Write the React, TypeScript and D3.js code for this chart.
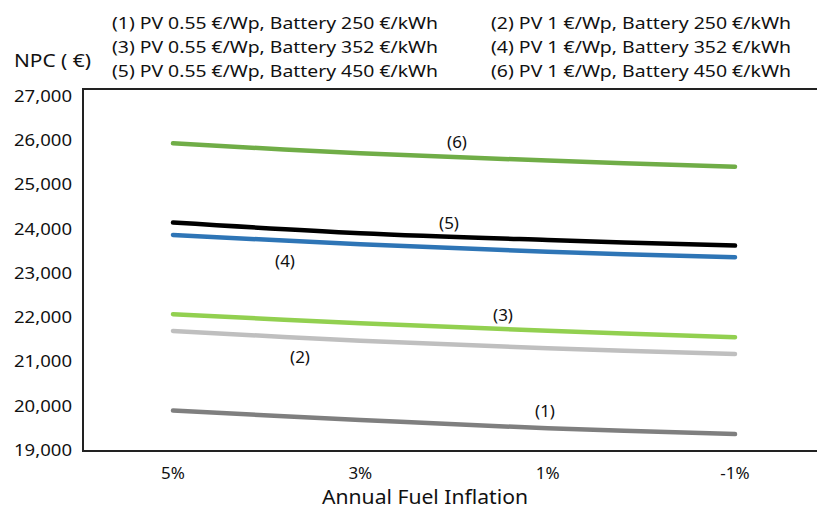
import React from "react";
import * as d3 from "d3";

const categories = ["5%", "3%", "1%", "-1%"];
const yTicks = [19000, 20000, 21000, 22000, 23000, 24000, 25000, 26000, 27000];
const s1 = [19890, 19680, 19490, 19360];
const s2 = [21690, 21470, 21300, 21170];
const s3 = [22070, 21865, 21695, 21550];
const s4 = [23860, 23650, 23480, 23355];
const s5 = [24140, 23900, 23745, 23620];
const s6 = [25930, 25705, 25540, 25400];
const seriesNames = ["(1)", "(2)", "(3)", "(4)", "(5)", "(6)"];
const legendLeft = [
  "(1) PV 0.55 €/Wp, Battery 250 €/kWh",
  "(3) PV 0.55 €/Wp, Battery 352 €/kWh",
  "(5) PV 0.55 €/Wp, Battery 450 €/kWh",
];
const legendRight = [
  "(2) PV 1 €/Wp, Battery 250 €/kWh",
  "(4) PV 1 €/Wp, Battery 352 €/kWh",
  "(6) PV 1 €/Wp, Battery 450 €/kWh",
];

const colors = ["#7F7F7F", "#BFBFBF", "#92D050", "#2E75B6", "#000000", "#70AD47"];
const labelPos = [
  { x: 545, dy: -17 },
  { x: 300, dy: 19 },
  { x: 503, dy: -14 },
  { x: 285, dy: 21 },
  { x: 449, dy: -13 },
  { x: 457, dy: -15 },
];

export default function App() {
  const W = 817, H = 510;
  const boxL = 83, boxT = 89, boxB = 451, boxR = 818;
  const x = d3.scalePoint<string>().domain(categories).range([173, 735]);
  const y = d3.scaleLinear().domain([19000, 27000]).range([450, 96]);
  const all = [s1, s2, s3, s4, s5, s6];
  const line = d3
    .line<number>()
    .x((_, i) => x(categories[i]) as number)
    .y((d) => y(d))
    .curve(d3.curveCatmullRom.alpha(0.5));
  const font = "'Noto Sans', 'Open Sans', sans-serif";
  const xInv = d3.scaleLinear().domain([173, 735]).range([0, 3]);
  const valAt = (s: number[], px: number) => {
    const t = xInv(px);
    const i = Math.min(2, Math.floor(t));
    const f = t - i;
    return s[i] + (s[i + 1] - s[i]) * f;
  };
  return (
    <svg width={W} height={H} style={{ position: "absolute", left: 0, top: 0, background: "#fff" }}>
      <rect x={0} y={0} width={W} height={H} fill="#fff" />
      {legendLeft.map((t, i) => (
        <text key={"l" + i} x={112} y={23 + i * 24} dy="0.35em" fontFamily={font} fontSize={17}
          fill="#111" textLength={326} lengthAdjust="spacingAndGlyphs">{t}</text>
      ))}
      {legendRight.map((t, i) => (
        <text key={"r" + i} x={491} y={23 + i * 24} dy="0.35em" fontFamily={font} fontSize={17}
          fill="#111" textLength={300} lengthAdjust="spacingAndGlyphs">{t}</text>
      ))}
      <text x={14} y={61} dy="0.35em" fontFamily={font} fontSize={18} fill="#111"
        textLength={77} lengthAdjust="spacingAndGlyphs">NPC ( €)</text>
      <path d={`M${boxR},${boxT}H${boxL}V${boxB}H${boxR}`} fill="none" stroke="#222" strokeWidth={2} />
      {yTicks.map((v) => (
        <text key={v} x={72} y={y(v)} dy="0.35em" textAnchor="end" fontFamily={font} fontSize={16.5}
          fill="#111" textLength={58} lengthAdjust="spacingAndGlyphs">{d3.format(",")(v)}</text>
      ))}
      {categories.map((c) => (
        <text key={c} x={x(c)} y={473} dy="0.35em" textAnchor="middle" fontFamily={font} fontSize={17} fill="#111">{c}</text>
      ))}
      <text x={425} y={497} dy="0.35em" textAnchor="middle" fontFamily={font} fontSize={19} fill="#111"
        textLength={206} lengthAdjust="spacingAndGlyphs">Annual Fuel Inflation</text>
      {all.map((s, i) => (
        <path key={i} d={line(s) as string} fill="none" stroke={colors[i]} strokeWidth={4.5}
          strokeLinecap="round" strokeLinejoin="round" />
      ))}
      {all.map((s, i) => (
        <text key={"n" + i} x={labelPos[i].x} y={y(valAt(s, labelPos[i].x)) + labelPos[i].dy} dy="0.35em"
          textAnchor="middle" fontFamily={font} fontSize={17} fill="#111">{seriesNames[i]}</text>
      ))}
    </svg>
  );
}
